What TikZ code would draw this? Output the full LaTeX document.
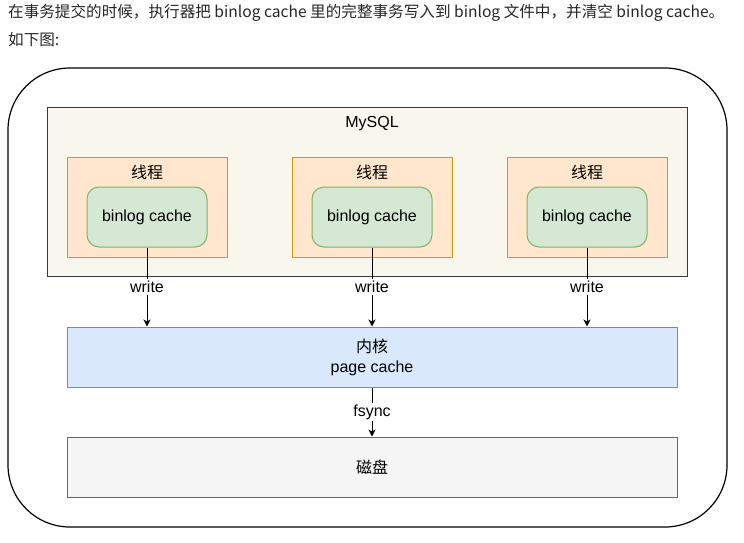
\documentclass[tikz,border=0pt]{standalone}
\usepackage{fontspec}
\setmainfont{Liberation Sans}
\newfontfamily\cjk{Noto Sans CJK SC}
\usetikzlibrary{arrows.meta}

\definecolor{mysqlfill}{HTML}{F9F7ED}
\definecolor{mysqldraw}{HTML}{36393D}
\definecolor{threadfill}{HTML}{FFE6CC}
\definecolor{threaddraw}{HTML}{D79B00}
\definecolor{cachefill}{HTML}{D5E8D4}
\definecolor{cachedraw}{HTML}{82B366}
\definecolor{pagefill}{HTML}{DAE8FC}
\definecolor{pagedraw}{HTML}{6C8EBF}
\definecolor{diskfill}{HTML}{F5F5F5}
\definecolor{diskdraw}{HTML}{666666}

\tikzset{
  txt/.style={inner sep=0pt, font=\fontsize{16}{20}\selectfont},
  headtxt/.style={txt, anchor=west, text=black!85, font=\fontsize{15.6}{20}\selectfont\cjk},
  box/.style={draw, line width=1pt, inner sep=0pt, align=center,
    font=\fontsize{16}{20}\selectfont},
  mysqlbox/.style={box, fill=mysqlfill, draw=mysqldraw, minimum width=640, minimum height=169},
  threadbox/.style={box, fill=threadfill, draw=threaddraw, minimum width=160, minimum height=100},
  cachebox/.style={box, fill=cachefill, draw=cachedraw, rounded corners=12, minimum width=120, minimum height=60},
  pagebox/.style={box, fill=pagefill, draw=pagedraw, minimum width=610, minimum height=60},
  diskbox/.style={box, fill=diskfill, draw=diskdraw, minimum width=610, minimum height=60},
  flow/.style={line width=1pt, -{Stealth[length=7pt,width=7pt,inset=2pt]}},
  flowlabel/.style={txt, fill=white, inner sep=2pt},
}

\begin{document}
\begin{tikzpicture}[x=1pt,y=-1pt]
  \useasboundingbox (0,0) rectangle (744,543);

  % text above the picture
  \node[headtxt] (line1) at (8,13)
    {在事务提交的时候，执行器把 binlog cache 里的完整事务写入到 binlog 文件中，并清空 binlog cache。};
  \node[headtxt] (line2) at (8,40) {如下图:};

  % outer frame
  \draw[line width=1.2pt, rounded corners=62] (8,68) rectangle (727,527);

  % MySQL
  \node[mysqlbox] (mysql) at (367,191.5) {};
  \node[txt] (mysqltitle) at (372,124) {MySQL};

  % threads
  \foreach \x/\n in {147/a, 372/b, 587/c} {
    \node[threadbox] (thread\n) at (\x,207) {};
    \node[txt] (threadtitle\n) at (\x,172) {\cjk 线程};
    \node[cachebox] (cache\n) at (\x,217) {binlog cache};
  }

  % kernel and disk
  \node[pagebox] (page) at (372,357) {{\cjk 内核}\\page cache};
  \node[diskbox] (disk) at (372,467) {\cjk 磁盘};

  % write arrows
  \foreach \n in {a, b, c} {
    \draw[flow] (cache\n.south) -- node[flowlabel] {write} (cache\n.south |- page.north);
  }
  \draw[flow] (page.south) -- node[flowlabel] {fsync} (disk.north);
\end{tikzpicture}
\end{document}
